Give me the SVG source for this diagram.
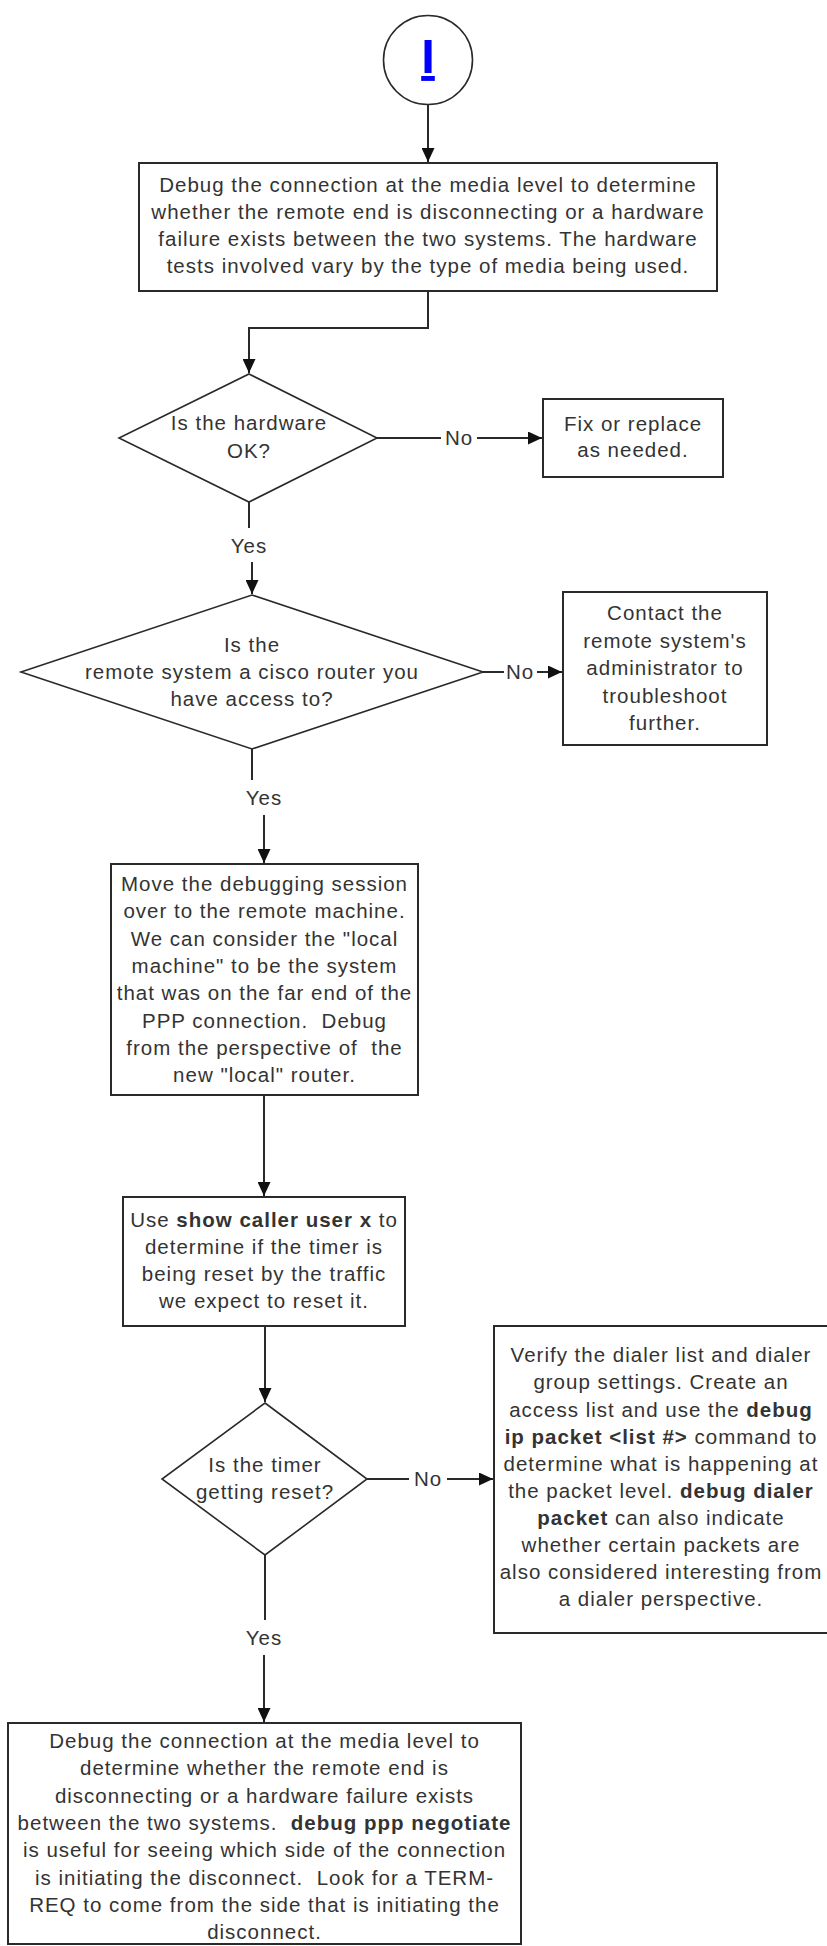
<svg xmlns="http://www.w3.org/2000/svg" width="827" height="1946" viewBox="0 0 827 1946">
<style>
.bg{fill:#ffffff}
.box{fill:#ffffff;stroke:#2a2a2a;stroke-width:2}
.dia{fill:#ffffff;stroke:#2a2a2a;stroke-width:1.6}
.con{fill:none;stroke:#2a2a2a;stroke-width:2}
.t{font-family:"Liberation Sans",Arial,sans-serif;font-size:20.5px;letter-spacing:1px;fill:#333333;text-anchor:middle;white-space:pre}
.b{font-weight:bold}
.link{font-family:"Liberation Sans",Arial,sans-serif;font-size:49px;font-weight:bold;fill:#0000ff;text-anchor:middle;text-decoration:underline}
</style>
<defs>
<marker id="arr" markerUnits="userSpaceOnUse" markerWidth="15" markerHeight="13" refX="14" refY="6.5" orient="auto">
<path d="M0,0 L14,6.5 L0,13 z" fill="#111111"/>
</marker>
</defs>
<rect class="bg" x="0" y="0" width="827" height="1946"/>

<g id="connectors">
<path class="con" d="M428,105 V162" marker-end="url(#arr)"/>
<path class="con" d="M428,291 V328 H249 V373" marker-end="url(#arr)"/>
<path class="con" d="M377,438 H441"/>
<path class="con" d="M477,438 H542" marker-end="url(#arr)"/>
<path class="con" d="M249,502 V528"/>
<path class="con" d="M252,562 V594" marker-end="url(#arr)"/>
<path class="con" d="M483,672 H504"/>
<path class="con" d="M537,672 H562" marker-end="url(#arr)"/>
<path class="con" d="M252,749 V780"/>
<path class="con" d="M264,815 V863" marker-end="url(#arr)"/>
<path class="con" d="M264,1095 V1196" marker-end="url(#arr)"/>
<path class="con" d="M265,1326 V1402" marker-end="url(#arr)"/>
<path class="con" d="M367,1479 H409"/>
<path class="con" d="M447,1479 H493" marker-end="url(#arr)"/>
<path class="con" d="M265,1555 V1620"/>
<path class="con" d="M264,1655 V1722" marker-end="url(#arr)"/>
<text class="t" x="459" y="445">No</text>
<text class="t" x="249" y="553">Yes</text>
<text class="t" x="520" y="679">No</text>
<text class="t" x="264" y="805">Yes</text>
<text class="t" x="428" y="1486">No</text>
<text class="t" x="264" y="1645">Yes</text>
</g>

<g id="start">
<circle cx="428" cy="60" r="44.5" fill="#ffffff" stroke="#2a2a2a" stroke-width="1.6"/>
<text class="link" x="428" y="73">I</text>
</g>

<g id="debug-media">
<rect class="box" x="139" y="163" width="578" height="128"/>
<text class="t" x="428" y="192">Debug the connection at the media level to determine</text>
<text class="t" x="428" y="219">whether the remote end is disconnecting or a hardware</text>
<text class="t" x="428" y="246">failure exists between the two systems. The hardware</text>
<text class="t" x="428" y="273">tests involved vary by the type of media being used.</text>
</g>

<g id="hardware-ok">
<polygon class="dia" points="249,374 377,438 249,502 119,438"/>
<text class="t" x="249" y="430">Is the hardware</text>
<text class="t" x="249" y="458">OK?</text>
</g>

<g id="fix-replace">
<rect class="box" x="543" y="399" width="180" height="78"/>
<text class="t" x="633" y="431">Fix or replace</text>
<text class="t" x="633" y="457">as needed.</text>
</g>

<g id="remote-cisco">
<polygon class="dia" points="252,595 483,672 252,749 21,672"/>
<text class="t" x="252" y="652">Is the</text>
<text class="t" x="252" y="679">remote system a cisco router you</text>
<text class="t" x="252" y="706">have access to?</text>
</g>

<g id="contact-admin">
<rect class="box" x="563" y="592" width="204" height="153"/>
<text class="t" x="665" y="620">Contact the</text>
<text class="t" x="665" y="648">remote system's</text>
<text class="t" x="665" y="675">administrator to</text>
<text class="t" x="665" y="703">troubleshoot</text>
<text class="t" x="665" y="730">further.</text>
</g>

<g id="move-session">
<rect class="box" x="111" y="864" width="307" height="231"/>
<text class="t" x="264.5" y="891">Move the debugging session</text>
<text class="t" x="264.5" y="918">over to the remote machine.</text>
<text class="t" x="264.5" y="946">We can consider the "local</text>
<text class="t" x="264.5" y="973">machine" to be the system</text>
<text class="t" x="264.5" y="1000">that was on the far end of the</text>
<text class="t" x="264.5" y="1028">PPP connection.  Debug</text>
<text class="t" x="264.5" y="1055">from the perspective of  the</text>
<text class="t" x="264.5" y="1082">new "local" router.</text>
</g>

<g id="show-caller">
<rect class="box" x="123" y="1197" width="282" height="129"/>
<text class="t" x="264" y="1227">Use <tspan class="b">show caller user x</tspan> to</text>
<text class="t" x="264" y="1254">determine if the timer is</text>
<text class="t" x="264" y="1281">being reset by the traffic</text>
<text class="t" x="264" y="1308">we expect to reset it.</text>
</g>

<g id="timer-reset">
<polygon class="dia" points="265,1403 367,1479 265,1555 162,1479"/>
<text class="t" x="265" y="1472">Is the timer</text>
<text class="t" x="265" y="1499">getting reset?</text>
</g>

<g id="verify-dialer">
<rect class="box" x="494" y="1326" width="334" height="307"/>
<text class="t" x="661" y="1362">Verify the dialer list and dialer</text>
<text class="t" x="661" y="1389">group settings. Create an</text>
<text class="t" x="661" y="1417">access list and use the <tspan class="b">debug</tspan></text>
<text class="t" x="661" y="1444"><tspan class="b">ip packet &lt;list #&gt;</tspan> command to</text>
<text class="t" x="661" y="1471">determine what is happening at</text>
<text class="t" x="661" y="1498">the packet level. <tspan class="b">debug dialer</tspan></text>
<text class="t" x="661" y="1525"><tspan class="b">packet</tspan> can also indicate</text>
<text class="t" x="661" y="1552">whether certain packets are</text>
<text class="t" x="661" y="1579">also considered interesting from</text>
<text class="t" x="661" y="1606">a dialer perspective.</text>
</g>

<g id="debug-ppp">
<rect class="box" x="8" y="1723" width="513" height="221"/>
<text class="t" x="264.5" y="1748">Debug the connection at the media level to</text>
<text class="t" x="264.5" y="1775">determine whether the remote end is</text>
<text class="t" x="264.5" y="1803">disconnecting or a hardware failure exists</text>
<text class="t" x="264.5" y="1830">between the two systems.  <tspan class="b">debug ppp negotiate</tspan></text>
<text class="t" x="264.5" y="1857">is useful for seeing which side of the connection</text>
<text class="t" x="264.5" y="1885">is initiating the disconnect.  Look for a TERM-</text>
<text class="t" x="264.5" y="1912">REQ to come from the side that is initiating the</text>
<text class="t" x="264.5" y="1939">disconnect.</text>
</g>
</svg>
